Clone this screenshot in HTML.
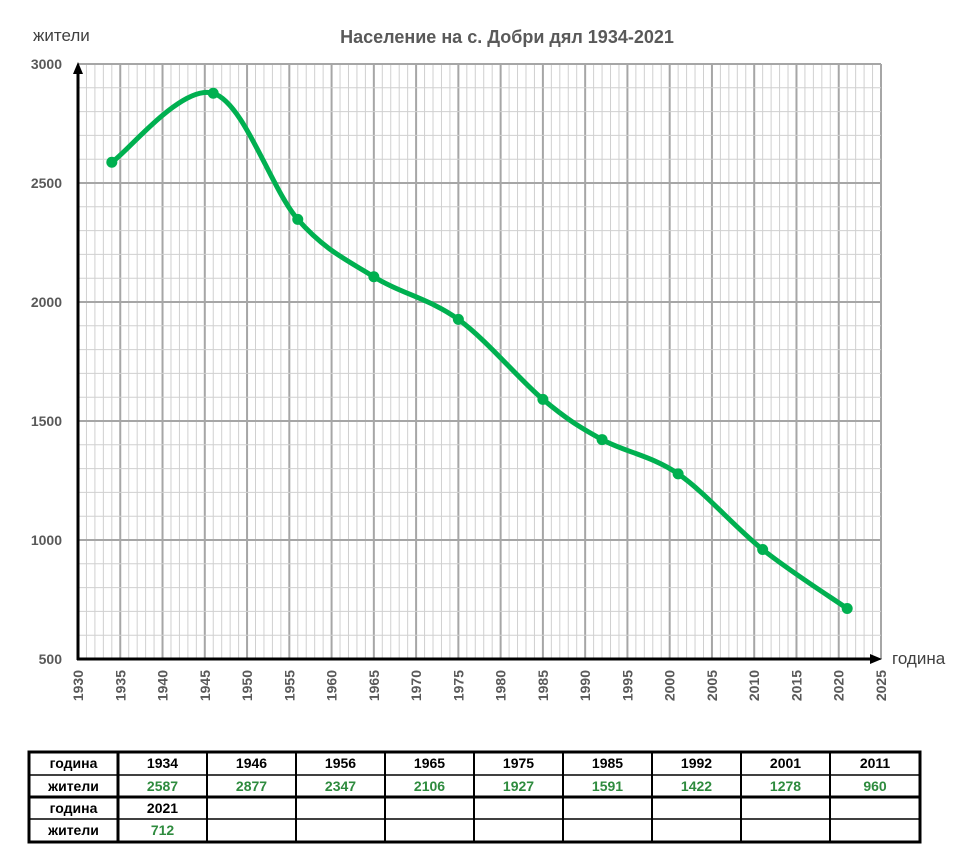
<!DOCTYPE html>
<html><head><meta charset="utf-8"><style>
body{margin:0;background:#fff;width:966px;height:863px;overflow:hidden;font-family:"Liberation Sans",sans-serif}
svg{position:absolute;left:0;top:0}
</style></head><body>
<svg id="s" width="966" height="863" xmlns="http://www.w3.org/2000/svg">
<text x="507" y="43" text-anchor="middle" font-family="Liberation Sans" font-weight="bold" font-size="18" fill="#595959">Население на с. Добри дял 1934-2021</text>
<text x="33" y="41" font-family="Liberation Sans" font-size="17" fill="#404040">жители</text>
<text x="892" y="664" font-family="Liberation Sans" font-size="17" fill="#404040">година</text>
<g id="grid"></g>
<g id="lab" font-family="Liberation Sans" font-weight="bold" font-size="14" fill="#595959"></g>
<line x1="78" y1="660" x2="78" y2="70" stroke="#000" stroke-width="3"/>
<polygon points="78,62 73,74 83,74" fill="#000"/>
<line x1="77" y1="659" x2="874" y2="659" stroke="#000" stroke-width="3"/>
<polygon points="882,659 870,654 870,664" fill="#000"/>
<path id="curve" fill="none" stroke="#00b050" stroke-width="5" stroke-linecap="round"/>
<g id="pts" fill="#00b050"></g>
<g id="tbl" font-family="Liberation Sans" font-weight="bold" font-size="14" text-anchor="middle"></g>
</svg>
<script>
var ns="http://www.w3.org/2000/svg";
function el(p,t,a,txt){var e=document.createElementNS(ns,t);for(var k in a)e.setAttribute(k,a[k]);if(txt!=null)e.textContent=txt;document.getElementById(p).appendChild(e);return e;}
var X=function(y){return 78+(y-1930)*803/95;};
var Y=function(v){return 659-(v-500)*595/2500;};
for(var y=1930;y<=2025;y++){var maj=(y%5==0);el('grid','line',{x1:X(y),x2:X(y),y1:64,y2:659,stroke:maj?'#a6a6a6':'#d0d0d0','stroke-width':maj?2:1});}
for(var v=500;v<=3000;v+=100){var maj=(v%500==0);el('grid','line',{x1:78,x2:881,y1:Y(v),y2:Y(v),stroke:maj?'#a6a6a6':'#d0d0d0','stroke-width':maj?2:1});}
for(var v=500;v<=3000;v+=500){el('lab','text',{x:62,y:Y(v)+5,'text-anchor':'end'},v);}
for(var y=1930;y<=2025;y+=5){var t=el('lab','text',{x:0,y:0,'text-anchor':'end',transform:'translate('+(X(y)+5)+',670) rotate(-90)'},y);}
var d=[[1934,2587],[1946,2877],[1956,2347],[1965,2106],[1975,1927],[1985,1591],[1992,1422],[2001,1278],[2011,960],[2021,712]];
var P=d.map(function(p){return [X(p[0]),Y(p[1])];});
var s='M'+P[0][0]+','+P[0][1];
for(var i=0;i<P.length-1;i++){var p0=P[i-1]||P[i],p1=P[i],p2=P[i+1],p3=P[i+2]||P[i+1],k=1/6;
s+=' C'+(p1[0]+(p2[0]-p0[0])*k)+','+(p1[1]+(p2[1]-p0[1])*k)+' '+(p2[0]-(p3[0]-p1[0])*k)+','+(p2[1]-(p3[1]-p1[1])*k)+' '+p2[0]+','+p2[1];}
document.getElementById('curve').setAttribute('d',s);
P.forEach(function(p){el('pts','circle',{cx:p[0],cy:p[1],r:5.5});});
var cols=[29,118,207,296,385,474,563,652,741,830,920],rows=[752,775,797,819,842];
el('tbl','rect',{x:29,y:752,width:891,height:90,fill:'none',stroke:'#000','stroke-width':3});
for(var i=1;i<cols.length-1;i++)el('tbl','line',{x1:cols[i],x2:cols[i],y1:752,y2:842,stroke:'#000','stroke-width':i==1?3:2});
el('tbl','line',{x1:29,x2:920,y1:775,y2:775,stroke:'#000','stroke-width':1.5});
el('tbl','line',{x1:29,x2:920,y1:797,y2:797,stroke:'#000','stroke-width':3});
el('tbl','line',{x1:29,x2:920,y1:819,y2:819,stroke:'#000','stroke-width':1.5});
var lab=['година','жители','година','жители'];
for(var r=0;r<4;r++){el('tbl','text',{x:(29+118)/2,y:rows[r]+16,fill:'#000'},lab[r]);}
d.forEach(function(p,i){var r=i<9?0:2,c=i<9?i+1:1;var cx=(cols[c]+cols[c+1])/2;
el('tbl','text',{x:cx,y:rows[r]+16,fill:'#000'},p[0]);el('tbl','text',{x:cx,y:rows[r+1]+16,fill:'#2e8b3e'},p[1]);});
</script>
</body></html>
